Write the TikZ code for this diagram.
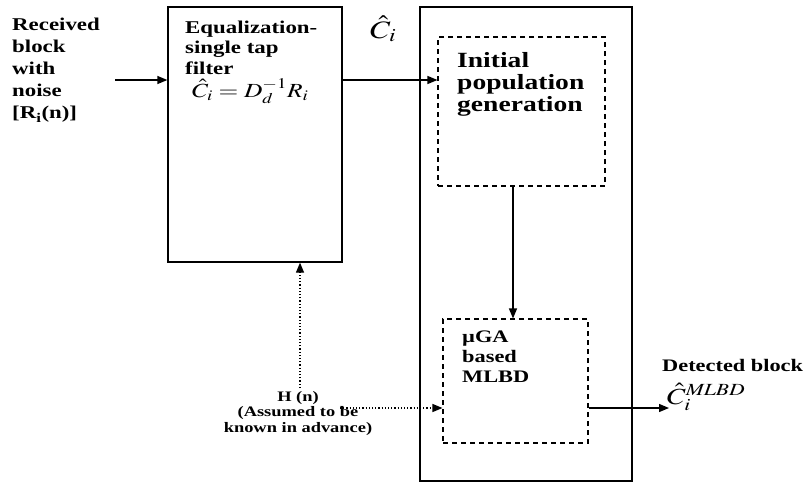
\documentclass[tikz,border=0pt]{standalone}
\usepackage{mathptmx}
\usepackage{fontspec}
\setmainfont{Liberation Serif}[FakeStretch=1.27]
\usetikzlibrary{arrows.meta, positioning}

\newcommand{\widemath}[1]{\scalebox{1.27}[1]{$#1$}}

\begin{document}
\begin{tikzpicture}[
    x=1pt, y=1pt,
    block/.style={rectangle, draw, line width=1.3pt, inner sep=0pt},
    dashbox/.style={rectangle, draw, dash pattern=on 5pt off 4pt, line width=1.1pt, inner sep=0pt},
    txt/.style={align=left, anchor=north west, inner sep=0pt, font=\bfseries\fontsize{18}{21}\selectfont},
    mathtxt/.style={anchor=base west, inner sep=0pt},
    arrow/.style={-{Triangle[length=10pt,width=8pt]}, line width=1.3pt},
    dotarrow/.style={-{Triangle[length=10pt,width=8pt]}, dotted, line width=1.2pt}
]
\useasboundingbox (0,0) rectangle (809,-482);

% Blocks
\node[block, minimum width=174, minimum height=255] (eq) at (255,-134.5) {};
\node[block, minimum width=212, minimum height=474] (ga) at (526,-244) {};
\node[dashbox, minimum width=167, minimum height=149] (init) at (521.5,-111.5) {};
\node[dashbox, minimum width=145, minimum height=124] (mlbd) at (515.5,-381) {};

% Texts
\node[txt, font=\bfseries\fontsize{18}{22.2}\selectfont] (input) at (12,-17.5)
    {Received\\block\\with\\noise\\{[}R\textsubscript{i}(n)]};
\node[txt, font=\bfseries\fontsize{18}{20.5}\selectfont] (eqtext) at (185,-20.8)
    {Equalization-\\single tap\\filter};
\node[mathtxt, font=\fontsize{20}{22}\selectfont] (eqmath) at (192,-97)
    {\widemath{\hat{C}_i = D_d^{-1} R_i}};
\node[txt, font=\bfseries\fontsize{21.7}{21.7}\selectfont] (inittext) at (457,-52.4)
    {Initial\\population\\generation};
\node[txt, font=\bfseries\fontsize{17.6}{20}\selectfont] (mlbdtext) at (462,-331)
    {µGA\\based\\MLBD};
\node[mathtxt, font=\fontsize{25}{27}\selectfont] (chat) at (370,-38) {\widemath{\hat{C}_i}};
\node[align=center, anchor=north, inner sep=0pt, font=\bfseries\fontsize{14.5}{15.5}\selectfont] (hn) at (298,-391)
    {H (n)\\(Assumed to be\\known in advance)};
\node[anchor=base west, inner sep=0pt, font=\bfseries\fontsize{17.6}{20}\selectfont] (detected) at (662,-371)
    {Detected block};
\node[mathtxt, font=\fontsize{23}{25}\selectfont] (out) at (667,-404)
    {\widemath{\hat{C}_i^{\mathit{MLBD}}}};

% Connector ends
\coordinate (inputend) at (115,-80);
\coordinate (hnup) at (300,-388);
\coordinate (hnright) at (340,-408);
\coordinate (outend) at (669,-408);

% Arrows
\draw[arrow] (inputend) -- (inputend -| eq.west);
\draw[arrow] (eq.east |- inputend) -- (init.west |- inputend);
\draw[arrow] (init.south -| 513,0) -- (mlbd.north -| 513,0);
\draw[dotarrow] (hnup) -- (hnup |- eq.south);
\draw[dotarrow] (hnright) -- (hnright -| mlbd.west);
\draw[arrow] (mlbd.east |- hnright) -- (outend);

\end{tikzpicture}
\end{document}
